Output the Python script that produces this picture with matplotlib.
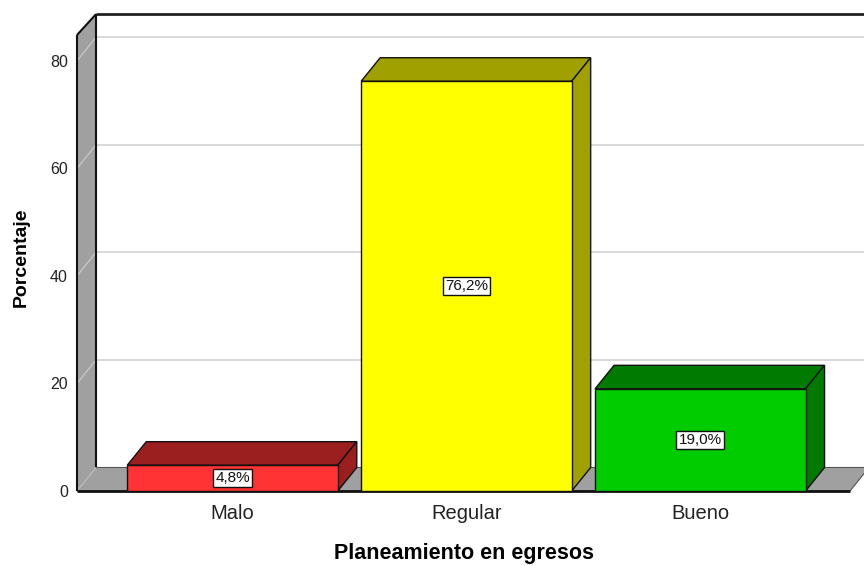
import matplotlib.pyplot as plt
from matplotlib.patches import Polygon, Rectangle

# Distribución porcentual de "Planeamiento en egresos"
categorias = ['Malo', 'Regular', 'Bueno']
porcentajes = [4.8, 76.2, 19.0]
ticks_y = [0, 20, 40, 60, 80]

# colores de cara frontal y de las caras sombreadas (tapa y lateral)
color_frente = ['#ff3333', '#ffff00', '#00cc00']
color_sombra = ['#9b1f1f', '#a0a000', '#007a00']

GRIS_PARED = '#a0a0a0'

plt.rcParams['font.family'] = ['Liberation Sans', 'DejaVu Sans']

fig = plt.figure(figsize=(8.64, 5.66), dpi=100)
ax = fig.add_axes([77 / 864, 75 / 566, 773 / 864, 456 / 566])

x0, x1 = -0.665, 2.64
y0, y1 = 0.0, 84.8
# desplazamiento de profundidad (efecto 3D) en unidades de datos
DX, DY = 19 / 234, 23.5 / 5.375
ancho = 0.9

ax.set_xlim(x0, x1)
ax.set_ylim(y0, y1)
ax.patch.set_visible(False)
for s in ax.spines.values():
    s.set_visible(False)


def poly(pts, **kw):
    p = Polygon(pts, closed=True, clip_on=False, **kw)
    ax.add_patch(p)
    return p


def linea(xs, ys, **kw):
    ax.plot(xs, ys, clip_on=False, solid_capstyle='butt', **kw)


# pared izquierda y suelo
top = y1 + DY - 0.5
poly([(x0, y0), (x0 + DX, y0 + DY), (x0 + DX, top), (x0, y1)],
     facecolor=GRIS_PARED, edgecolor='none', zorder=1)
poly([(x0, y0), (x1, y0), (x1 + DX, y0 + DY), (x0 + DX, y0 + DY)],
     facecolor=GRIS_PARED, edgecolor='#555555', lw=0.8, zorder=1)

# líneas de cuadrícula en pared del fondo y pared lateral
for t in ticks_y:
    if t > 0:
        linea([x0 + DX, x1 + DX], [t + DY, t + DY], color='#d6d6d6', lw=1.3, zorder=1.2)
    linea([x0, x0 + DX], [t, t + DY], color='#c4c4c4', lw=1.0, zorder=1.2)

# bordes del marco
linea([x0 + DX, x1 + DX], [top, top], color='#222222', lw=2.0, zorder=1.5)
linea([x0 + DX, x0 + DX], [y0 + DY, top], color='#111111', lw=1.5, zorder=1.5)
linea([x0, x0 + DX], [y1, top], color='#111111', lw=1.5, zorder=1.5)
linea([x0, x0], [y0, y1], color='#111111', lw=1.5, zorder=1.5)
linea([x0, x1], [y0, y0], color='#111111', lw=2.0, zorder=1.5)

# barras 3D
for i, (v, cf, cs) in enumerate(zip(porcentajes, color_frente, color_sombra)):
    izq, der = i - ancho / 2, i + ancho / 2
    poly([(izq, v), (der, v), (der + DX, v + DY), (izq + DX, v + DY)],
         facecolor=cs, edgecolor='#111111', lw=1.0, joinstyle='miter', zorder=3)
    poly([(der, 0), (der + DX, DY), (der + DX, v + DY), (der, v)],
         facecolor=cs, edgecolor='#111111', lw=1.0, joinstyle='miter', zorder=3)
    ax.add_patch(Rectangle((izq, 0), ancho, v, facecolor=cf, edgecolor='#111111',
                           lw=1.0, clip_on=False, zorder=3.5))
    texto = f'{v:.1f}%'.replace('.', ',')
    ax.text(i, v / 2, texto, ha='center', va='center', fontsize=11, color='#111111',
            zorder=5, bbox=dict(boxstyle='square,pad=0.15', facecolor='white',
                                edgecolor='#111111', lw=1.0))

ax.set_xticks(range(len(categorias)), categorias, fontsize=14.5, color='#222222')
ax.set_yticks(ticks_y, [str(t) for t in ticks_y], fontsize=11.5, color='#222222')
ax.tick_params(axis='x', length=0, pad=9.5)
ax.tick_params(axis='y', length=0, pad=6.5)

ax.set_xlabel('Planeamiento en egresos', fontsize=15.5, fontweight='bold', labelpad=14)
ax.set_ylabel('Porcentaje', fontsize=14, fontweight='bold')
ax.yaxis.set_label_coords(-0.061, 0.513)

fig.savefig('out.png', dpi=100)
